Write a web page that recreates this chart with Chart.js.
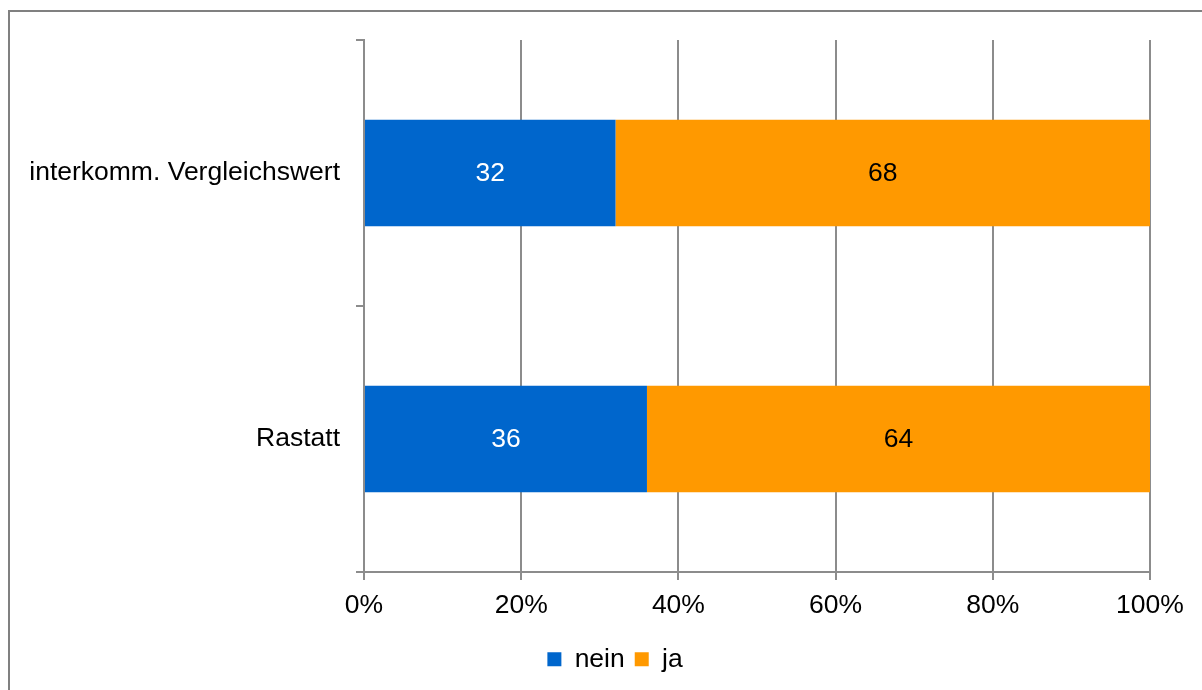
<!DOCTYPE html>
<html>
<head>
<meta charset="utf-8">
<script src="https://cdn.jsdelivr.net/npm/chart.js@4/dist/chart.umd.min.js"></script>
<style>
    html, body { margin: 0; padding: 0; background: #fff; }
    #wrap { position: relative; width: 1202px; height: 690px; }
</style>
</head>
<body>
<div id="wrap"><canvas id="chart" width="1202" height="690"></canvas></div>
<script>
const categories = ['interkomm. Vergleichswert', 'Rastatt']
const nein = [32, 36]
const ja = [68, 64]
const xTicks = [0, 20, 40, 60, 80, 100]

const ctx = document.getElementById('chart')
const gridColor = '#8c8c8c'
const font = { family: '"Liberation Sans", Arial, sans-serif', size: 26.5 }

// outer frame (left and top edge visible)
const framePlugin = {
    id: 'frame',
    beforeDraw: chart => {
        const c = chart.ctx
        c.save()
        c.fillStyle = '#fff'
        c.fillRect(0, 0, chart.width, chart.height)
        c.strokeStyle = '#808080'
        c.lineWidth = 2
        c.beginPath()
        c.moveTo(9, chart.height)
        c.lineTo(9, 11)
        c.lineTo(chart.width, 11)
        c.stroke()
        c.restore()
    }
}

// push the legend a bit to the right, under the plot
const legendShift = {
    id: 'legendShift',
    afterLayout: chart => { chart.legend.left += 80 }
}

// value labels centred in each bar segment
const valuePlugin = {
    id: 'values',
    afterDatasetsDraw: chart => {
        const c = chart.ctx
        c.save()
        c.font = `${font.size}px ${font.family}`
        c.textAlign = 'center'
        c.textBaseline = 'middle'
        chart.data.datasets.forEach((ds, i) => {
            chart.getDatasetMeta(i).data.forEach((bar, j) => {
                const mid = (bar.x + bar.base) / 2
                c.fillStyle = ds.labelColor
                c.fillText(ds.data[j], mid, bar.y + 1)
            })
        })
        c.restore()
    }
}

new Chart(ctx, {
    type: 'bar',
    data: {
        labels: categories,
        datasets: [
            { label: 'nein', data: nein, backgroundColor: '#0066cc', labelColor: '#ffffff', borderWidth: 0 },
            { label: 'ja', data: ja, backgroundColor: '#ff9900', labelColor: '#000000', borderWidth: 0 }
        ]
    },
    options: {
        indexAxis: 'y',
        responsive: false,
        animation: false,
        layout: { padding: { top: 40, right: 52, left: 0, bottom: 7.5 } },
        plugins: {
            legend: {
                position: 'bottom',
                labels: {
                    color: '#000',
                    font: font,
                    boxWidth: 14,
                    boxHeight: 14,
                    padding: 10
                }
            },
            tooltip: { enabled: false }
        },
        scales: {
            x: {
                stacked: true,
                min: 0,
                max: 100,
                afterBuildTicks: scale => { scale.ticks = xTicks.map(v => ({ value: v })) },
                afterFit: scale => { scale.height = 64 },
                ticks: {
                    color: '#000',
                    font: font,
                    padding: 10,
                    callback: v => v + '%'
                },
                grid: { color: gridColor, lineWidth: 2, tickLength: 8 },
                border: { color: gridColor, width: 2 }
            },
            y: {
                stacked: true,
                afterFit: scale => { scale.width = 364 },
                ticks: { color: '#000', font: font, padding: 16 },
                grid: { offset: true, drawOnChartArea: false, color: gridColor, lineWidth: 2, tickLength: 8 },
                border: { color: gridColor, width: 2 }
            }
        },
        datasets: { bar: { categoryPercentage: 1, barPercentage: 0.4 } }
    },
    plugins: [framePlugin, legendShift, valuePlugin]
})
</script>
</body>
</html>
